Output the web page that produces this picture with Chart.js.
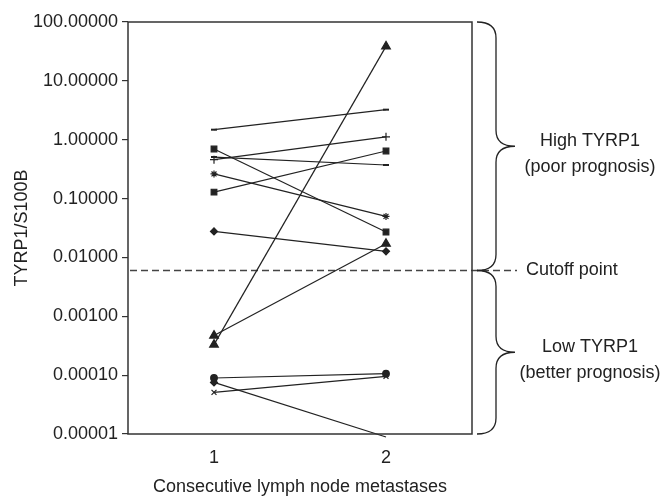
<!DOCTYPE html>
<html>
<head>
<meta charset="utf-8">
<script src="https://cdn.jsdelivr.net/npm/chart.js@4.4.0/dist/chart.umd.min.js"></script>
<style>
html,body{margin:0;padding:0;background:#fff;}
#wrap{width:663px;height:496px;}
</style>
</head>
<body>
<div id="wrap"><canvas id="c" width="663" height="496"></canvas></div>
<script>
// ---- data ----
const nodePositions = [1, 2];
const xTickLabels = ['1', '2'];
const yTickValues = [0.00001, 0.0001, 0.001, 0.01, 0.1, 1, 10, 100];
const firstNodeValues  = [1.48, 0.695, 0.508, 0.458, 0.262, 0.129, 0.0277, 0.00047, 0.00033, 0.0000895, 0.0000753, 0.0000509];
const secondNodeValues = [3.24, 0.027, 0.372, 1.12, 0.0498, 0.643, 0.0127, 0.0171, 38.5, 0.000106, 0.0000089, 0.0000955];
const cutoffValue = 0.0062;
const yAxisTitle = 'TYRP1/S100B';
const xAxisTitle = 'Consecutive lymph node metastases';
const highLabel = ['High TYRP1', '(poor prognosis)'];
const lowLabel = ['Low TYRP1', '(better prognosis)'];
const cutoffLabel = 'Cutoff point';

// ---- styles ----
const markerStyles = ['line', 'rect', 'line', 'cross', 'star', 'rect', 'rectRot', 'triangle', 'triangle', 'circle', 'rectRot', 'crossRot'];
const markerRadius = {line: 3, rect: 4, cross: 4, star: 3.5, rectRot: 3.5, triangle: 5, circle: 3.3, crossRot: 3.5};
const FONT = '"Liberation Sans", Arial, Helvetica, sans-serif';
const FS = 18;
const INK = '#222';

const datasets = firstNodeValues.map((v, i) => {
  const style = markerStyles[i];
  const below = secondNodeValues[i] < yTickValues[0];
  const r = markerRadius[style];
  return {
    data: [{x: nodePositions[0], y: v}, {x: nodePositions[1], y: secondNodeValues[i]}],
    borderColor: INK,
    borderWidth: 1.2,
    pointStyle: style,
    pointRadius: below ? [r, 0] : r,
    pointBorderWidth: style === 'line' ? 2 : 1.2,
    pointBackgroundColor: INK,
    pointBorderColor: INK,
    clip: below ? false : undefined,
    tension: 0
  };
});

function brace(ctx, x0, x1, yTop, yBot) {
  const mid = (yTop + yBot) / 2;
  const xm = (x0 + x1) / 2;
  const r = 16;
  ctx.beginPath();
  ctx.moveTo(x0, yTop);
  ctx.quadraticCurveTo(xm, yTop, xm, yTop + r);
  ctx.lineTo(xm, mid - r);
  ctx.quadraticCurveTo(xm, mid, x1, mid);
  ctx.quadraticCurveTo(xm, mid, xm, mid + r);
  ctx.lineTo(xm, yBot - r);
  ctx.quadraticCurveTo(xm, yBot, x0, yBot);
  ctx.stroke();
  return mid;
}

const decor = {
  id: 'decor',
  beforeDatasetsDraw(chart) {
    const {ctx, chartArea: a, scales: {y}} = chart;
    const cy = Math.round(y.getPixelForValue(cutoffValue)) + 0.5;
    ctx.save();
    ctx.strokeStyle = '#444';
    ctx.lineWidth = 1.3;
    ctx.setLineDash([7, 4]);
    ctx.beginPath();
    ctx.moveTo(a.left + 2, cy);
    ctx.lineTo(a.right + 45, cy);
    ctx.stroke();
    ctx.restore();
  },
  afterDraw(chart) {
    const {ctx, chartArea: a, scales: {y}} = chart;
    const cy = Math.round(y.getPixelForValue(cutoffValue)) + 0.5;
    const yTopV = y.getPixelForValue(yTickValues[yTickValues.length - 1]);
    const yBotV = y.getPixelForValue(yTickValues[0]);
    ctx.save();
    ctx.strokeStyle = '#333';
    ctx.lineWidth = 1.5;
    ctx.strokeRect(a.left, a.top, a.right - a.left, a.bottom - a.top);
    ctx.strokeStyle = INK;
    ctx.lineWidth = 1.3;
    const x0 = a.right + 5, x1 = a.right + 43;
    const m1 = brace(ctx, x0, x1, yTopV, cy);
    const m2 = brace(ctx, x0, x1, cy, yBotV);
    ctx.fillStyle = INK;
    ctx.font = FS + 'px ' + FONT;
    ctx.textAlign = 'center';
    ctx.textBaseline = 'middle';
    const tx = a.right + 118;
    ctx.fillText(highLabel[0], tx, m1 - 5);
    ctx.fillText(highLabel[1], tx, m1 + 21);
    ctx.fillText(lowLabel[0], tx, m2 - 5);
    ctx.fillText(lowLabel[1], tx, m2 + 21);
    ctx.textAlign = 'left';
    ctx.fillText(cutoffLabel, a.right + 54, cy);
    ctx.restore();
  }
};

new Chart(document.getElementById('c'), {
  type: 'line',
  data: {datasets},
  plugins: [decor],
  options: {
    responsive: false,
    devicePixelRatio: 1,
    animation: false,
    layout: {padding: {left: 13, right: 191, top: 22, bottom: 0}},
    plugins: {legend: {display: false}, tooltip: {enabled: false}},
    scales: {
      x: {
        type: 'linear',
        min: 0.5, max: 2.5,
        grid: {display: false},
        border: {display: false},
        afterBuildTicks: s => { s.ticks = nodePositions.map(v => ({value: v})); },
        afterFit: s => { s.height = 62; },
        ticks: {
          padding: 5,
          color: INK,
          font: {family: FONT, size: FS},
          callback: (v) => xTickLabels[nodePositions.indexOf(v)] ?? ''
        },
        title: {display: true, text: xAxisTitle, color: INK, font: {family: FONT, size: FS, lineHeight: 1}, padding: {top: 0, bottom: 0}}
      },
      y: {
        type: 'logarithmic',
        min: yTickValues[0], max: yTickValues[yTickValues.length - 1],
        grid: {display: true, drawOnChartArea: false, drawTicks: true, tickLength: 6, color: '#333', lineWidth: 1.2},
        border: {display: false},
        afterBuildTicks: s => { s.ticks = yTickValues.map(v => ({value: v})); },
        afterFit: s => { s.width = 115; },
        ticks: {
          padding: 4,
          color: INK,
          font: {family: FONT, size: FS},
          autoSkip: false,
          callback: (v) => Number(v).toFixed(5)
        },
        title: {display: true, text: yAxisTitle, color: INK, font: {family: FONT, size: FS, lineHeight: 1}, padding: {top: 0, bottom: 0}}
      }
    }
  }
});
</script>
</body>
</html>
